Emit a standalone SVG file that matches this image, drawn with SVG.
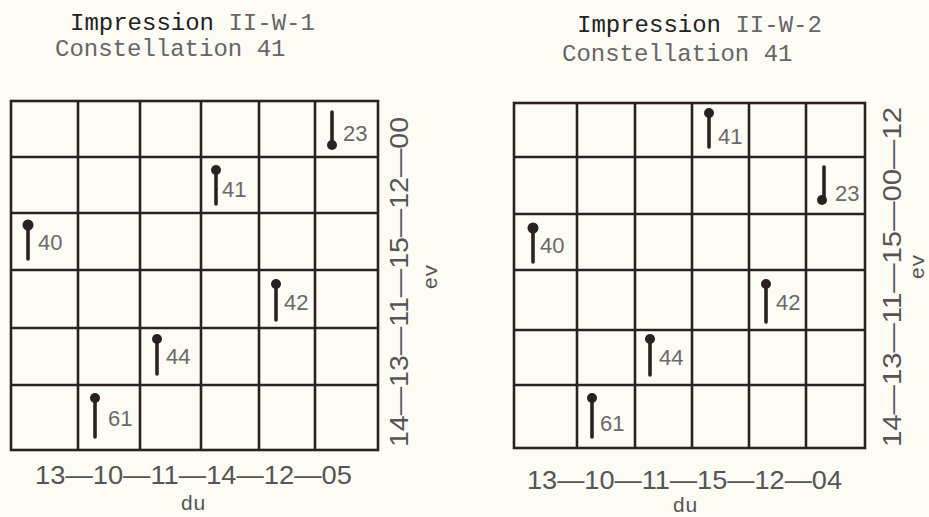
<svg xmlns="http://www.w3.org/2000/svg" width="929" height="517" viewBox="0 0 929 517">
<style>
.bg{fill:#fdfcf4}
.grid{fill:none;stroke:#2a2222;stroke-width:2.6}
.stem{stroke:#2a2222;stroke-width:3.6;stroke-linecap:round}
.ball{fill:#2a2222}
.lbl{font-family:"Liberation Sans",Arial,sans-serif;font-size:22px;fill:#6a6a6a}
.t1{font-family:"Liberation Mono","Courier New",monospace;font-size:24px;fill:#222}
.t2{font-family:"Liberation Mono","Courier New",monospace;font-size:24px;fill:#666}
.ax{font-family:"Liberation Sans",Arial,sans-serif;font-size:25px;fill:#555}
.sm{font-family:"Liberation Mono","Courier New",monospace;font-size:21px;fill:#555}
</style>
<rect class="bg" x="0" y="0" width="929" height="517"/>

<g id="title-left">
<text class="t1" x="70" y="30">Impression <tspan class="t2">II-W-1</tspan></text>
<text class="t2" x="55" y="56">Constellation 41</text>
</g>
<g id="title-right">
<text class="t1" x="577" y="32">Impression <tspan class="t2">II-W-2</tspan></text>
<text class="t2" x="562" y="61">Constellation 41</text>
</g>

<g id="grid-left" class="grid">
<rect x="11" y="101" width="367" height="349"/>
<path d="M78 101V450M140 101V450M201 101V450M259 101V450M315 101V450M11 157H378M11 213H378M11 270H378M11 328H378M11 385H378"/>
</g>
<g id="grid-right" class="grid">
<rect x="514" y="103" width="351" height="345"/>
<path d="M577 103V448M635 103V448M692 103V448M749 103V448M806 103V448M514 157H865M514 214H865M514 270H865M514 330H865M514 385H865"/>
</g>

<g id="pins-left">
<g id="L23"><line class="stem" x1="332" y1="112" x2="332" y2="144"/><circle class="ball" cx="332" cy="145" r="5"/><text class="lbl" x="343" y="141">23</text></g>
<g id="L41"><line class="stem" x1="216" y1="170" x2="216" y2="204"/><circle class="ball" cx="216" cy="170" r="5"/><text class="lbl" x="222" y="197">41</text></g>
<g id="L40"><line class="stem" x1="28" y1="225" x2="28" y2="259"/><circle class="ball" cx="28" cy="225" r="5.5"/><text class="lbl" x="38" y="250">40</text></g>
<g id="L42"><line class="stem" x1="276" y1="284" x2="276" y2="320"/><circle class="ball" cx="276" cy="284" r="5"/><text class="lbl" x="284" y="310">42</text></g>
<g id="L44"><line class="stem" x1="157" y1="339" x2="157" y2="374"/><circle class="ball" cx="157" cy="339" r="5"/><text class="lbl" x="166" y="364">44</text></g>
<g id="L61"><line class="stem" x1="95" y1="398" x2="95" y2="437"/><circle class="ball" cx="95" cy="398" r="5"/><text class="lbl" x="108" y="426">61</text></g>
</g>

<g id="pins-right">
<g id="R41"><line class="stem" x1="709" y1="113" x2="709" y2="147"/><circle class="ball" cx="709" cy="113" r="5"/><text class="lbl" x="718" y="144">41</text></g>
<g id="R23"><line class="stem" x1="824" y1="167" x2="824" y2="199"/><circle class="ball" cx="822" cy="200" r="5"/><text class="lbl" x="835" y="201">23</text></g>
<g id="R40"><line class="stem" x1="533" y1="228" x2="533" y2="262"/><circle class="ball" cx="533" cy="228" r="5.5"/><text class="lbl" x="540" y="253">40</text></g>
<g id="R42"><line class="stem" x1="766" y1="284" x2="766" y2="322"/><circle class="ball" cx="766" cy="284" r="5"/><text class="lbl" x="776" y="310">42</text></g>
<g id="R44"><line class="stem" x1="650" y1="339" x2="650" y2="375"/><circle class="ball" cx="650" cy="339" r="5"/><text class="lbl" x="659" y="365">44</text></g>
<g id="R61"><line class="stem" x1="592" y1="398" x2="592" y2="437"/><circle class="ball" cx="592" cy="398" r="5"/><text class="lbl" x="600" y="431">61</text></g>
</g>

<g id="axes-left">
<text class="ax" x="35" y="484" textLength="317" lengthAdjust="spacingAndGlyphs">13—10—11—14—12—05</text>
<text class="sm" x="193" y="510" text-anchor="middle">du</text>
<text class="ax" transform="translate(408,447) rotate(-90)" x="0" y="0" textLength="330" lengthAdjust="spacingAndGlyphs">14—13—11—15—12—00</text>
<text class="sm" transform="translate(437,277) rotate(-90)" x="0" y="0" text-anchor="middle">ev</text>
</g>
<g id="axes-right">
<text class="ax" x="527" y="489" textLength="315" lengthAdjust="spacingAndGlyphs">13—10—11—15—12—04</text>
<text class="sm" x="685" y="512" text-anchor="middle">du</text>
<text class="ax" transform="translate(901,447) rotate(-90)" x="0" y="0" textLength="340" lengthAdjust="spacingAndGlyphs">14—13—11—15—00—12</text>
<text class="sm" transform="translate(924,267) rotate(-90)" x="0" y="0" text-anchor="middle">ev</text>
</g>
</svg>
